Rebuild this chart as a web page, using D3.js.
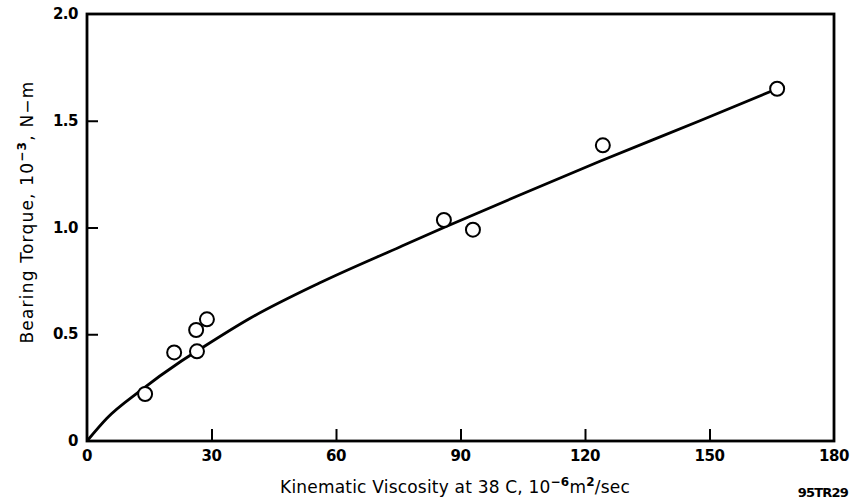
<!DOCTYPE html>
<html>
<head>
<meta charset="utf-8">
<script src="https://cdn.jsdelivr.net/npm/d3@7"></script>
<style>
body { margin: 0; background: #fff; }
text { font-family: "DejaVu Sans", Verdana, sans-serif; fill: #000; }
</style>
</head>
<body>
<script>
/* Data */
var viscosity = [14, 21, 26.5, 26.3, 28.9, 86, 93, 124.3, 166.3];
var torque    = [0.22, 0.415, 0.42, 0.52, 0.57, 1.035, 0.99, 1.385, 1.65];
var curveX = [0, 4.8, 12.8, 22.4, 27.2, 39.3, 56, 75.4, 86, 104, 123.6, 147.7, 166.3];
var curveY = [0, 0.107, 0.235, 0.37, 0.43, 0.575, 0.74, 0.909, 1.0, 1.15, 1.31, 1.5, 1.65];
var xTicks = [0, 30, 60, 90, 120, 150, 180];
var yTicks = [0, 0.5, 1.0, 1.5, 2.0];
var yTickLabels = ["0", "0.5", "1.0", "1.5", "2.0"];

/* Display setup */
var width = 851, height = 503,
	plot = {left: 87, right: 834, top: 14, bottom: 441},
	svg = d3.select("body").append("svg")
		.attr("width", width)
		.attr("height", height);

var x = d3.scaleLinear().domain([0, 180]).range([plot.left, plot.right]),
	y = d3.scaleLinear().domain([0, 2]).range([plot.bottom, plot.top]);

// frame
svg.append("rect")
	.attr("x", plot.left)
	.attr("y", plot.top)
	.attr("width", plot.right - plot.left)
	.attr("height", plot.bottom - plot.top)
	.style("fill", "none")
	.style("stroke", "#000")
	.style("stroke-width", 2.8);

// inward ticks
var xAxis = d3.axisTop(x).tickValues(xTicks.slice(1, -1)).tickSize(12).tickFormat("");
svg.append("g")
	.attr("transform", "translate(0," + plot.bottom + ")")
	.call(xAxis)
	.call(function(g) { g.select(".domain").remove(); })
	.selectAll("line").style("stroke", "#000").style("stroke-width", 2);

var yAxis = d3.axisRight(y).tickValues(yTicks.slice(1, -1)).tickSize(11).tickFormat("");
svg.append("g")
	.attr("transform", "translate(" + plot.left + ",0)")
	.call(yAxis)
	.call(function(g) { g.select(".domain").remove(); })
	.selectAll("line").style("stroke", "#000").style("stroke-width", 2);

// tick labels
svg.selectAll(".xlab")
	.data(xTicks)
	.enter().append("text")
		.attr("class", "xlab")
		.attr("x", function(d) { return x(d); })
		.attr("y", plot.bottom + 20)
		.attr("text-anchor", "middle")
		.style("font-size", "15px")
		.style("font-weight", "bold")
		.style("letter-spacing", "-0.5px")
		.text(function(d) { return d; });

svg.selectAll(".ylab")
	.data(yTicks)
	.enter().append("text")
		.attr("class", "ylab")
		.attr("x", plot.left - 9)
		.attr("y", function(d) { return y(d) + 5; })
		.attr("text-anchor", "end")
		.style("font-size", "15px")
		.style("font-weight", "bold")
		.style("letter-spacing", "-0.5px")
		.text(function(d, i) { return yTickLabels[i]; });

// fitted curve
var line = d3.line()
	.x(function(d) { return x(d[0]); })
	.y(function(d) { return y(d[1]); })
	.curve(d3.curveMonotoneX);

svg.append("path")
	.datum(d3.zip(curveX, curveY))
	.attr("d", line)
	.style("fill", "none")
	.style("stroke", "#000")
	.style("stroke-width", 2.8);

// measured points
svg.selectAll(".pt")
	.data(d3.zip(viscosity, torque))
	.enter().append("circle")
		.attr("class", "pt")
		.attr("cx", function(d) { return x(d[0]); })
		.attr("cy", function(d) { return y(d[1]); })
		.attr("r", 7)
		.style("fill", "#fff")
		.style("stroke", "#000")
		.style("stroke-width", 2);

// axis titles
var xt = svg.append("text")
	.attr("x", 455)
	.attr("y", 493)
	.attr("text-anchor", "middle")
	.style("font-size", "17px")
	.style("letter-spacing", "0.2px");
xt.append("tspan").text("Kinematic Viscosity at 38 C, 10");
xt.append("tspan").attr("dy", -7).style("font-size", "12px").style("font-weight", "bold").text("\u22126");
xt.append("tspan").attr("dy", 7).text("m");
xt.append("tspan").attr("dy", -7).style("font-size", "12px").style("font-weight", "bold").text("2");
xt.append("tspan").attr("dy", 7).text("/sec");

var yt = svg.append("text")
	.attr("transform", "translate(33,212) rotate(-90)")
	.attr("text-anchor", "middle")
	.style("font-size", "17px")
	.style("letter-spacing", "1.2px");
yt.append("tspan").text("Bearing Torque, 10");
yt.append("tspan").attr("dy", -7).style("font-size", "12px").style("font-weight", "bold").text("\u22123");
yt.append("tspan").attr("dy", 7).text(", N\u2212m");

svg.append("text")
	.attr("x", 848)
	.attr("y", 497)
	.attr("text-anchor", "end")
	.style("font-size", "13px")
	.style("font-weight", "bold")
	.style("letter-spacing", "-0.8px")
	.text("95TR29");
</script>
</body>
</html>
